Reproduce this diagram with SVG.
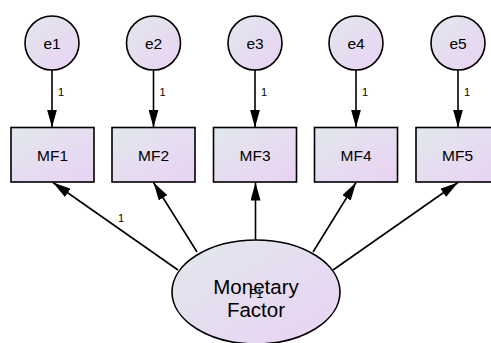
<svg xmlns="http://www.w3.org/2000/svg" width="491" height="343" viewBox="0 0 491 343">
<defs>
<linearGradient id="g" x1="0" y1="0" x2="1" y2="1">
<stop offset="0" stop-color="#e1e8ed"/>
<stop offset="1" stop-color="#ead2f3"/>
</linearGradient>
<marker id="ah" markerUnits="userSpaceOnUse" markerWidth="18" markerHeight="10" viewBox="0 0 18 10" refX="18" refY="5" orient="auto">
<path d="M0,0 L18,5 L0,10 Z" fill="#000"/>
</marker>
<style>
.n{fill:url(#g);stroke:#000;stroke-width:1.6}
.t{font-family:"Liberation Sans",Arial,sans-serif;fill:#000;text-anchor:middle}
.c{stroke:#000;stroke-width:1.6;fill:none;marker-end:url(#ah)}
.w{font-family:"Liberation Sans",Arial,sans-serif;font-size:11px;fill:#000}
</style>
</defs>
<g id="connectors">
<line class="c" x1="52" y1="70" x2="52" y2="127.5"/>
<line class="c" x1="153.5" y1="70" x2="153.5" y2="127.5"/>
<line class="c" x1="255" y1="70" x2="255" y2="127.5"/>
<line class="c" x1="356" y1="70" x2="356" y2="127.5"/>
<line class="c" x1="458" y1="70" x2="458" y2="127.5"/>
<line class="c" x1="178" y1="270" x2="53" y2="182.5"/>
<line class="c" x1="197" y1="252" x2="153.5" y2="182.5"/>
<line class="c" x1="255.5" y1="240" x2="255.5" y2="182.5"/>
<line class="c" x1="313" y1="252" x2="356" y2="182.5"/>
<line class="c" x1="333" y1="270" x2="458" y2="182.5"/>
<text class="w" x="58" y="96">1</text>
<text class="w" x="159.5" y="96">1</text>
<text class="w" x="261" y="96">1</text>
<text class="w" x="362" y="96">1</text>
<text class="w" x="464" y="96">1</text>
<text class="w" x="118" y="222">1</text>
</g>
<g id="e1"><circle class="n" cx="52" cy="43" r="27"/><text class="t" x="52" y="48.5" font-size="15.5">e1</text></g>
<g id="e2"><circle class="n" cx="153.5" cy="43" r="27"/><text class="t" x="153.5" y="48.5" font-size="15.5">e2</text></g>
<g id="e3"><circle class="n" cx="255" cy="43" r="27"/><text class="t" x="255" y="48.5" font-size="15.5">e3</text></g>
<g id="e4"><circle class="n" cx="356" cy="43" r="27"/><text class="t" x="356" y="48.5" font-size="15.5">e4</text></g>
<g id="e5"><circle class="n" cx="458" cy="43" r="27"/><text class="t" x="458" y="48.5" font-size="15.5">e5</text></g>
<g id="MF1"><rect class="n" x="11" y="127.5" width="83" height="54.5"/><text class="t" x="52.5" y="161" font-size="15.5">MF1</text></g>
<g id="MF2"><rect class="n" x="112" y="127.5" width="83" height="54.5"/><text class="t" x="153.5" y="161" font-size="15.5">MF2</text></g>
<g id="MF3"><rect class="n" x="213.5" y="127.5" width="83" height="54.5"/><text class="t" x="255" y="161" font-size="15.5">MF3</text></g>
<g id="MF4"><rect class="n" x="314.5" y="127.5" width="83" height="54.5"/><text class="t" x="356" y="161" font-size="15.5">MF4</text></g>
<g id="MF5"><rect class="n" x="416" y="127.5" width="83" height="54.5"/><text class="t" x="457.5" y="161" font-size="15.5">MF5</text></g>
<g id="F1">
<ellipse class="n" cx="256" cy="292" rx="84" ry="52"/>
<text class="t" x="256" y="297.5" font-size="12">F1</text>
<text class="t" x="256" y="294" font-size="20.5">Monetary</text>
<text class="t" x="256" y="317" font-size="20.5">Factor</text>
</g>
</svg>
